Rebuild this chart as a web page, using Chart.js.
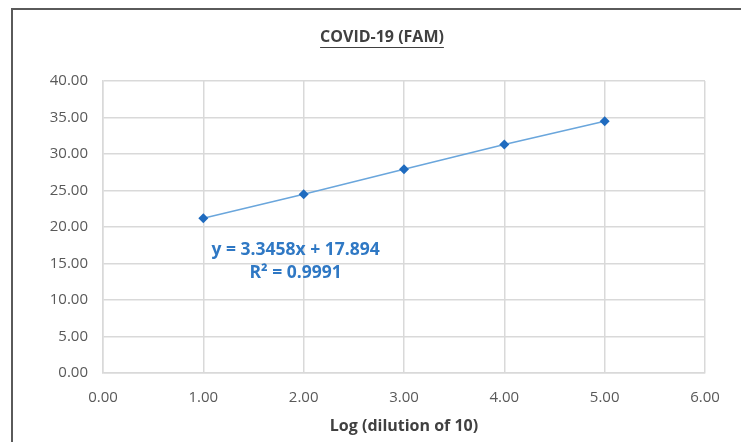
<!DOCTYPE html>
<html>
<head>
<meta charset="utf-8">
<script src="https://cdn.jsdelivr.net/npm/chart.js@4"></script>
<style>
  html, body { margin: 0; padding: 0; background: #fff; overflow: hidden; }
  #frame {
    position: absolute; left: 11px; top: 8px; width: 800px; height: 500px;
    border-left: 2px solid #5a5a5a; border-top: 2px solid #5a5a5a;
  }
  #wrap { position: absolute; left: 0; top: 0; width: 741px; height: 442px; }
</style>
</head>
<body>
<div id="frame"></div>
<div id="wrap"><canvas id="stdCurve"></canvas></div>
<script>
  // dilution points (log10) and Ct
  const logDilution = [1, 2, 3, 4, 5];
  const ctValues = [21.2, 24.5, 27.9, 31.3, 34.5];
  const xTicks = [0, 1, 2, 3, 4, 5, 6];
  const yTicks = [0, 5, 10, 15, 20, 25, 30, 35, 40];
  const chartTitle = "COVID-19 (FAM)";
  const xTitle = "Log (dilution of 10)";
  const eqLines = ["y = 3.3458x + 17.894", "R\u00b2 = 0.9991"];

  const FONT = "'Open Sans', 'Noto Sans', sans-serif";

  // title with underline + trendline equation
  const extras = {
    id: "extras",
    afterDraw(chart) {
      const c = chart.ctx;
      const xs = chart.scales.x, ys = chart.scales.y;
      c.save();
      c.font = "bold 16px " + FONT;
      c.fillStyle = "#404040";
      c.textAlign = "center";
      c.textBaseline = "middle";
      const tx = 382, ty = 37;
      c.fillText(chartTitle, tx, ty);
      const w = c.measureText(chartTitle).width;
      c.strokeStyle = "#404040";
      c.lineWidth = 1;
      c.beginPath();
      c.moveTo(tx - w / 2, ty + 10.5);
      c.lineTo(tx + w / 2, ty + 10.5);
      c.stroke();

      c.font = "bold 17.5px " + FONT;
      c.fillStyle = "#2f78c4";
      const ex = xs.getPixelForValue(1.92);
      c.fillText(eqLines[0], ex, ys.getPixelForValue(16.9));
      c.fillText(eqLines[1], ex, ys.getPixelForValue(13.7));
      c.restore();
    }
  };

  new Chart(document.getElementById("stdCurve"), {
    type: "scatter",
    data: {
      datasets: [{
        data: logDilution.map((x, i) => ({ x: x, y: ctValues[i] })),
        showLine: true,
        borderColor: "#6aa6dc",
        borderWidth: 1.5,
        pointStyle: "rectRot",
        pointRadius: 5,
        pointBackgroundColor: "#1f6bbf",
        pointBorderColor: "#1f6bbf",
        pointBorderWidth: 0
      }]
    },
    options: {
      responsive: true,
      maintainAspectRatio: false,
      animation: false,
      layout: { padding: { left: 13, right: 36, top: 81, bottom: 0 } },
      plugins: { legend: { display: false }, tooltip: { enabled: false } },
      scales: {
        x: {
          type: "linear",
          min: 0, max: 6,
          afterBuildTicks: s => { s.ticks = xTicks.map(v => ({ value: v })); },
          afterFit: s => { s.height = 69; },
          grid: { color: "#d9d9d9", lineWidth: 1.5, drawTicks: false },
          border: { color: "#d9d9d9", width: 1.5 },
          ticks: {
            padding: 16,
            color: "#595959",
            font: { family: FONT, size: 15 },
            callback: v => v.toFixed(2)
          },
          title: {
            display: true,
            text: xTitle,
            color: "#404040",
            font: { family: FONT, size: 16, weight: "bold" },
            padding: { top: 4, bottom: 6 }
          }
        },
        y: {
          min: 0, max: 40,
          afterBuildTicks: s => { s.ticks = yTicks.map(v => ({ value: v })); },
          afterFit: s => { s.width = 90; },
          grid: { color: "#d9d9d9", lineWidth: 1.5, drawTicks: false },
          border: { color: "#d9d9d9", width: 1.5 },
          ticks: {
            padding: 15,
            color: "#595959",
            font: { family: FONT, size: 15 },
            callback: v => v.toFixed(2)
          }
        }
      }
    },
    plugins: [extras]
  });
</script>
</body>
</html>
